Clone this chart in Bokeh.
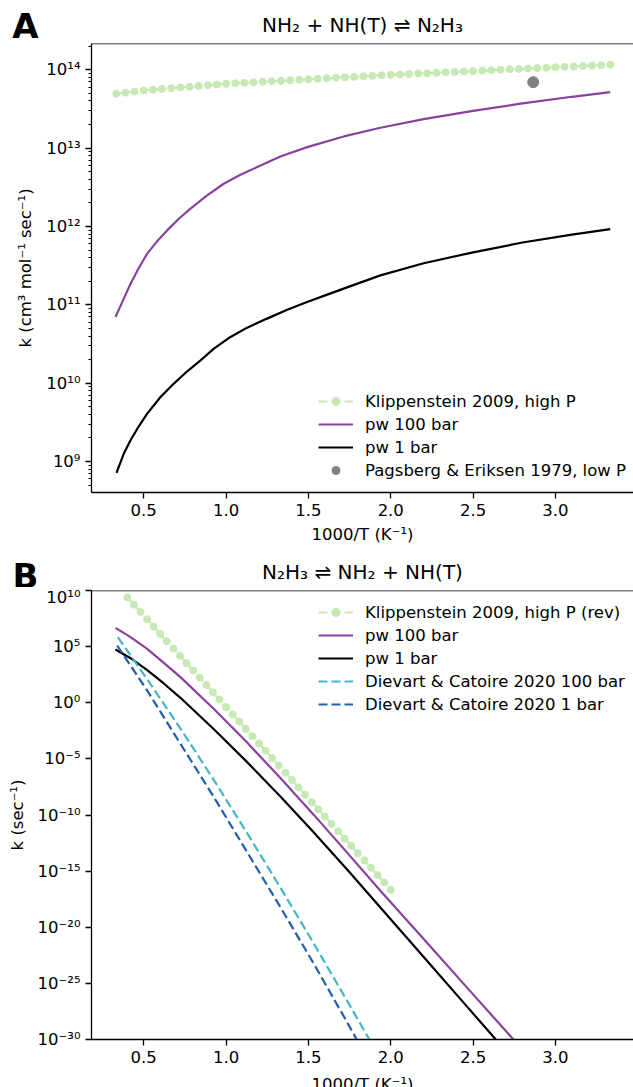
from bokeh.plotting import figure
from bokeh.layouts import column
from bokeh.models import (FixedTicker, CustomJSTickFormatter, PrintfTickFormatter, Legend,
                          LegendItem, Label, Span, Range1d)
from bokeh.embed import file_html
from bokeh.resources import INLINE

FONT = "DejaVu Sans"

# ---------------- Panel A data (x = 1000/T, k in cm3 mol-1 s-1) ----------------
a_klip_x = [0.3333 + 0.05556 * i for i in range(55)]
a_klip_log = [13.694, 13.708, 13.722, 13.736, 13.745, 13.755, 13.764, 13.774, 13.783, 13.793,
              13.802, 13.811, 13.821, 13.827, 13.834, 13.840, 13.846, 13.853, 13.859, 13.866,
              13.872, 13.878, 13.885, 13.891, 13.897, 13.904, 13.910, 13.917, 13.923, 13.929,
              13.935, 13.940, 13.945, 13.951, 13.956, 13.962, 13.967, 13.972, 13.978, 13.983,
              13.989, 13.994, 13.999, 14.005, 14.010, 14.016, 14.021, 14.026, 14.032, 14.037,
              14.043, 14.048, 14.053, 14.059, 14.064]
a_klip_k = [10 ** v for v in a_klip_log]

a_pw100_x = [0.3285, 0.379, 0.420, 0.470, 0.521, 0.581, 0.642, 0.713, 0.784, 0.885, 0.986,
             1.087, 1.189, 1.330, 1.492, 1.715, 1.937, 2.2, 2.5, 2.8, 3.1, 3.333]
a_pw100_log = [10.845, 11.079, 11.270, 11.470, 11.653, 11.810, 11.950, 12.099, 12.227, 12.397,
               12.545, 12.660, 12.758, 12.894, 13.013, 13.149, 13.260, 13.370, 13.475, 13.570,
               13.655, 13.714]
a_pw100_k = [10 ** v for v in a_pw100_log]

a_pw1_x = [0.3345, 0.379, 0.420, 0.470, 0.521, 0.602, 0.683, 0.764, 0.845, 0.926, 1.027,
           1.128, 1.249, 1.371, 1.492, 1.614, 1.735, 1.937, 2.2, 2.5, 2.8, 3.1, 3.333]
a_pw1_log = [8.855, 9.102, 9.272, 9.450, 9.612, 9.824, 9.995, 10.152, 10.292, 10.441, 10.590,
             10.709, 10.824, 10.938, 11.036, 11.130, 11.223, 11.376, 11.530, 11.670, 11.795,
             11.895, 11.965]
a_pw1_k = [10 ** v for v in a_pw1_log]

a_pags_x = [2.865]
a_pags_k = [6.95e13]

# ---------------- Panel B data (x = 1000/T, k in s-1) ----------------
b_klip_x = [0.40 + 0.04 * i for i in range(41)]
b_klip_log = [9.39, 8.74, 8.09, 7.44, 6.79, 6.14, 5.48, 4.83, 4.18, 3.53,
              2.88, 2.23, 1.58, 0.93, 0.28, -0.38, -1.03, -1.68, -2.33, -2.98,
              -3.63, -4.28, -4.93, -5.59, -6.24, -6.89, -7.54, -8.19, -8.84, -9.49,
              -10.14, -10.80, -11.45, -12.10, -12.75, -13.40, -14.05, -14.70, -15.35, -16.01,
              -16.66]
b_klip_k = [10 ** v for v in b_klip_log]

b_pw100_x = [0.3285, 0.42, 0.521, 0.62, 0.723, 0.926, 1.128, 1.33, 1.533, 1.735, 1.937,
             2.2, 2.5, 2.745]
b_pw100_log = [6.674, 5.85, 4.80, 3.58, 2.28, -0.56, -3.55, -6.71, -9.99, -13.35, -16.75,
               -21.05, -25.98, -30.0]
b_pw100_k = [10 ** v for v in b_pw100_log]

b_pw1_x = [0.3285, 0.42, 0.521, 0.62, 0.723, 0.926, 1.128, 1.33, 1.533, 1.735, 1.937,
           2.2, 2.45, 2.638]
b_pw1_log = [4.744, 3.97, 2.91, 1.74, 0.44, -2.36, -5.29, -8.36, -11.56, -14.86, -18.24,
             -22.65, -26.85, -30.0]
b_pw1_k = [10 ** v for v in b_pw1_log]

b_dc100_x = [0.3427, 0.521, 0.723, 0.926, 1.128, 1.33, 1.533, 1.735, 1.87]
b_dc100_log = [5.843, 2.10, -2.30, -6.89, -11.62, -16.47, -21.46, -26.55, -30.0]
b_dc100_k = [10 ** v for v in b_dc100_log]

b_dc1_x = [0.3386, 0.521, 0.723, 0.926, 1.128, 1.33, 1.533, 1.735, 1.793]
b_dc1_log = [5.10, 1.09, -3.66, -8.41, -13.31, -18.21, -23.26, -28.46, -30.0]
b_dc1_k = [10 ** v for v in b_dc1_log]

x_ticks = [0.5, 1.0, 1.5, 2.0, 2.5, 3.0]
a_y_ticks = [1e9, 1e10, 1e11, 1e12, 1e13, 1e14]
a_y_minor = [m * 10 ** e for e in range(8, 15) for m in range(2, 10)]
b_y_ticks = [1e-30, 1e-25, 1e-20, 1e-15, 1e-10, 1e-5, 1e0, 1e5, 1e10]

TITLE_A = "NH\u2082 + NH(T) \u21cc N\u2082H\u2083"
TITLE_B = "N\u2082H\u2083 \u21cc NH\u2082 + NH(T)"
XLABEL = "1000/T (K\u207b\u00b9)"
YLABEL_A = "k (cm\u00b3 mol\u207b\u00b9 sec\u207b\u00b9)"
YLABEL_B = "k (sec\u207b\u00b9)"

C_KLIP = "#c7e9b4"
C_PW100 = "#88419d"
C_PW1 = "#000000"
C_DC100 = "#41b6c4"
C_DC1 = "#225ea8"
C_PAGS = "#808080"

SUP = CustomJSTickFormatter(code="""
const e = Math.round(Math.log10(tick));
const m = {'-':'\u207b','0':'\u2070','1':'\u00b9','2':'\u00b2','3':'\u00b3','4':'\u2074',
           '5':'\u2075','6':'\u2076','7':'\u2077','8':'\u2078','9':'\u2079'};
return '10' + String(e).split('').map(c => m[c]).join('');
""")

FS = "16.5px"
W = 633
LEFT = 91
X_RANGE = (0.1828, 3.474)


def header(h, letter=None, letter_y=None, title=None, title_y=None):
    f = figure(width=W, height=h, x_range=Range1d(LEFT, W), y_range=Range1d(0, h),
               output_backend="svg", toolbar_location=None, title=None,
               min_border_left=LEFT, min_border_right=0, min_border_top=0, min_border_bottom=0,
               x_axis_location=None, y_axis_location="left" if letter else None)
    f.outline_line_color = None
    f.grid.visible = False
    f.background_fill_color = "white"
    f.border_fill_color = "white"
    if letter:
        ax = f.yaxis[0]
        ax.ticker = FixedTicker(ticks=[letter_y])
        ax.major_label_overrides = {letter_y: letter}
        ax.axis_line_color = None
        ax.major_tick_line_color = None
        ax.minor_tick_line_color = None
        ax.major_tick_out = 0
        ax.major_tick_in = 0
        ax.major_label_standoff = 53
        ax.major_label_text_font = FONT
        ax.major_label_text_font_size = "34px"
        ax.major_label_text_font_style = "bold"
        ax.major_label_text_color = "black"
    if title:
        f.add_layout(Label(x=362, y=title_y, text=title, text_font=FONT, text_font_size="20px",
                           text_color="black", text_align="center", text_baseline="alphabetic"))
    return f


def style(p):
    p.outline_line_color = None
    p.background_fill_color = "white"
    p.border_fill_color = "white"
    p.grid.grid_line_color = None
    for ax in (p.xaxis[0], p.yaxis[0]):
        ax.axis_line_width = 1.3
        ax.axis_line_color = "black"
        ax.major_tick_line_width = 1.3
        ax.major_tick_line_color = "black"
        ax.major_tick_out = 6
        ax.major_tick_in = 0
        ax.minor_tick_out = 3
        ax.minor_tick_in = 0
        ax.minor_tick_line_width = 1
        ax.minor_tick_line_color = "black"
        ax.major_label_text_font = FONT
        ax.major_label_text_font_size = FS
        ax.major_label_text_color = "black"
        ax.axis_label_text_font = FONT
        ax.axis_label_text_font_size = FS
        ax.axis_label_text_font_style = "normal"
        ax.axis_label_text_color = "black"
        ax.major_label_standoff = 5
    p.xaxis.ticker = FixedTicker(ticks=x_ticks)
    p.xaxis.formatter = PrintfTickFormatter(format="%.1f")
    p.xaxis.minor_tick_line_color = None
    p.yaxis.formatter = SUP
    p.add_layout(Span(location=p.y_range.end, dimension="width",
                      line_color="black", line_width=1.3))


def make_legend(items, loc):
    return Legend(items=items, location=loc, padding=0, margin=0, spacing=3,
                  glyph_width=35, glyph_height=20, label_height=20, label_standoff=12,
                  label_text_font=FONT, label_text_font_size=FS, label_text_color="black",
                  border_line_alpha=0, background_fill_alpha=0)


# ---------------- header A (panel letter + title) ----------------
hA = header(40, letter="A", letter_y=25.5, title=TITLE_A, title_y=16)

# ---------------- Panel A ----------------
p1 = figure(width=W, height=512, y_axis_type="log",
            x_range=Range1d(*X_RANGE), y_range=Range1d(10 ** 8.605, 10 ** 14.335),
            output_backend="svg", toolbar_location=None,
            min_border_left=LEFT, min_border_right=0, min_border_top=3, min_border_bottom=60)
style(p1)
p1.yaxis.ticker = FixedTicker(ticks=a_y_ticks, minor_ticks=a_y_minor)
p1.xaxis.axis_label = XLABEL
p1.xaxis.axis_label_standoff = 6
p1.yaxis.axis_label = YLABEL_A
p1.yaxis.axis_label_standoff = 8

ra_kl = p1.line(a_klip_x, a_klip_k, line_color=C_KLIP, line_width=2.2, line_dash="9 4")
ra_ks = p1.scatter(a_klip_x, a_klip_k, size=7, fill_color=C_KLIP, line_color=C_KLIP)
ra_100 = p1.line(a_pw100_x, a_pw100_k, line_color=C_PW100, line_width=2.2)
ra_1 = p1.line(a_pw1_x, a_pw1_k, line_color=C_PW1, line_width=2.2)
ra_pg = p1.scatter(a_pags_x, a_pags_k, size=11, fill_color=C_PAGS, line_color=C_PAGS)

p1.add_layout(make_legend([
    LegendItem(label="Klippenstein 2009, high P", renderers=[ra_kl, ra_ks]),
    LegendItem(label="pw 100 bar", renderers=[ra_100]),
    LegendItem(label="pw 1 bar", renderers=[ra_1]),
    LegendItem(label="Pagsberg & Eriksen 1979, low P", renderers=[ra_pg]),
], (227, 12)))

# ---------------- header B ----------------
hB = header(35, letter="B", letter_y=18, title=TITLE_B, title_y=16)

# ---------------- Panel B ----------------
p2 = figure(width=W, height=486, y_axis_type="log",
            x_range=Range1d(*X_RANGE), y_range=Range1d(1e-30, 1e10),
            output_backend="svg", toolbar_location=None,
            min_border_left=LEFT, min_border_right=0, min_border_top=3, min_border_bottom=34)
style(p2)
p2.yaxis.ticker = FixedTicker(ticks=b_y_ticks)
p2.yaxis.minor_tick_line_color = None
p2.yaxis.axis_label = YLABEL_B
p2.yaxis.axis_label_standoff = 8

rb_kl = p2.line(b_klip_x, b_klip_k, line_color=C_KLIP, line_width=2.2, line_dash="9 4")
rb_ks = p2.scatter(b_klip_x, b_klip_k, size=7, fill_color=C_KLIP, line_color=C_KLIP)
rb_100 = p2.line(b_pw100_x, b_pw100_k, line_color=C_PW100, line_width=2.2)
rb_1 = p2.line(b_pw1_x, b_pw1_k, line_color=C_PW1, line_width=2.2)
rb_d100 = p2.line(b_dc100_x, b_dc100_k, line_color=C_DC100, line_width=2.2, line_dash="9 4")
rb_d1 = p2.line(b_dc1_x, b_dc1_k, line_color=C_DC1, line_width=2.2, line_dash="9 4")

p2.add_layout(make_legend([
    LegendItem(label="Klippenstein 2009, high P (rev)", renderers=[rb_kl, rb_ks]),
    LegendItem(label="pw 100 bar", renderers=[rb_100]),
    LegendItem(label="pw 1 bar", renderers=[rb_1]),
    LegendItem(label="Dievart & Catoire 2020 100 bar", renderers=[rb_d100]),
    LegendItem(label="Dievart & Catoire 2020 1 bar", renderers=[rb_d1]),
], (227, 325)))

# ---------------- footer (x label of panel B, cut by the window edge) ----------------
fB = header(14)
fB.add_layout(Label(x=362, y=13, text=XLABEL, text_font=FONT, text_font_size=FS,
                    text_color="black", text_align="center", text_baseline="top"))

layout = column(hA, p1, hB, p2, fB, spacing=0)
open("out.html", "w").write(file_html(layout, INLINE))
